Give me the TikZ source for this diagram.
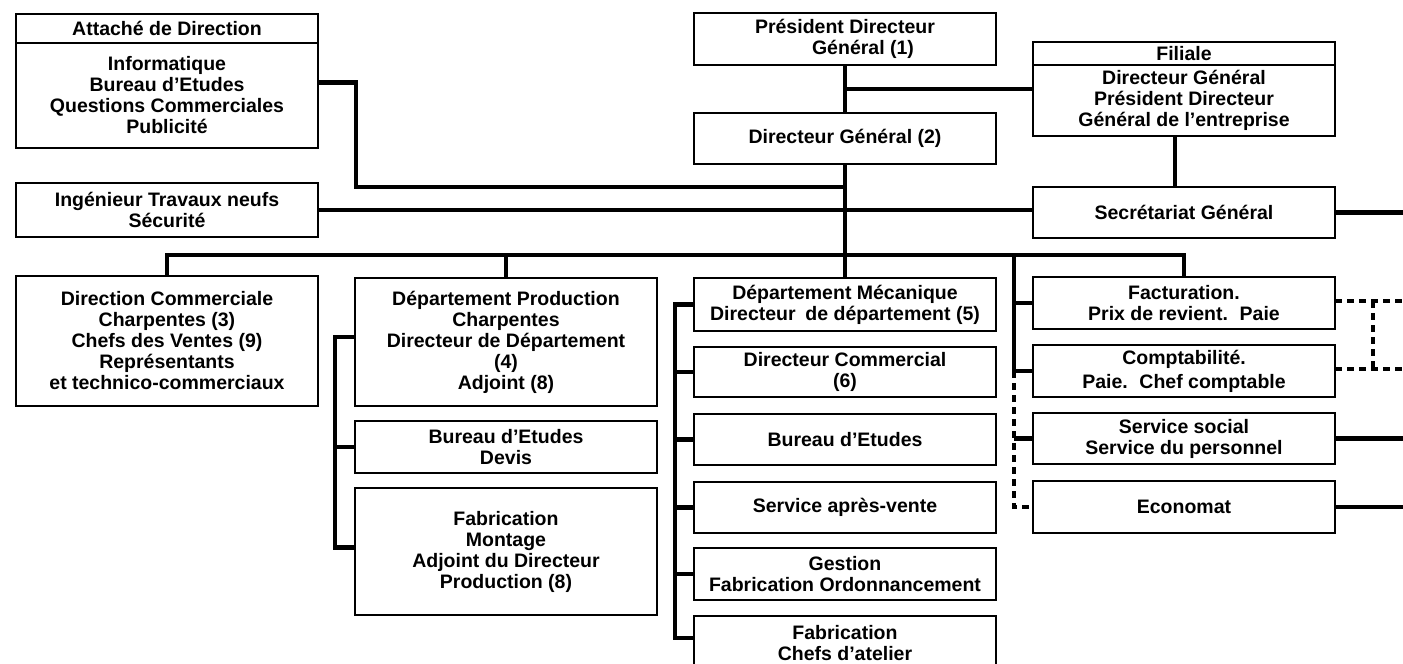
\documentclass[tikz,border=0pt]{standalone}
\usepackage{fontspec}
\setmainfont{Liberation Sans}
\begin{document}
\begin{tikzpicture}[x=1pt,y=-1pt,
  box/.style={draw, line width=2.5pt, rectangle, inner sep=0pt, outer sep=0pt,
    align=center, font=\bfseries\fontsize{19.5}{21}\selectfont},
  conn/.style={line width=4.5pt},
  dconn/.style={line width=4pt, dash pattern=on 7pt off 5pt},
]
\useasboundingbox (0,0) rectangle (1403,664);
\clip (0,0) rectangle (1403,664);

% ---- top level
\node[box, minimum width=302, minimum height=29] (attH) at (167,28.5) {Attaché de Direction};
\node[box, minimum width=302, minimum height=105] (attB) at (167,95.5)
  {Informatique\\Bureau d’Etudes\\Questions Commerciales\\Publicité};
\node[box, minimum width=302, minimum height=54] (ing) at (167,210)
  {Ingénieur Travaux neufs\\Sécurité};
\node[box, minimum width=302, minimum height=52] (pdg) at (845,39)
  {Président Directeur\\\hspace*{36pt}Général (1)};
\node[box, minimum width=302, minimum height=51] (dg) at (845,138.5) {Directeur Général (2)};
\node[box, minimum width=302, minimum height=23] (filH) at (1184,53.5) {Filiale};
\node[box, minimum width=302, minimum height=71] (filB) at (1184,100.5)
  {Directeur Général\\Président Directeur\\Général de l’entreprise};
\node[box, minimum width=302, minimum height=51] (sec) at (1184,212.5) {Secrétariat Général};

% ---- column 1 and 2
\node[box, minimum width=302, minimum height=130] (dc) at (167,341)
  {Direction Commerciale\\Charpentes (3)\\Chefs des Ventes (9)\\Représentants\\et technico-commerciaux};
\node[box, minimum width=302, minimum height=128] (dp) at (506,342)
  {Département Production\\Charpentes\\Directeur de Département\\(4)\\Adjoint (8)};
\node[box, minimum width=302, minimum height=52] (bde) at (506,447) {Bureau d’Etudes\\Devis};
\node[box, minimum width=302, minimum height=127] (fabm) at (506,551.5)
  {Fabrication\\Montage\\Adjoint du Directeur\\Production (8)};

% ---- column 3
\node[box, minimum width=302, minimum height=53] (dm) at (845,304.5)
  {Département Mécanique\\Directeur\hspace{0.5em}de département (5)};
\node[box, minimum width=302, minimum height=50] (dcom) at (845,372) {Directeur Commercial\\(6)};
\node[box, minimum width=302, minimum height=51] (bet) at (845,439.5) {Bureau d’Etudes};
\node[box, minimum width=302, minimum height=51] (sav) at (845,507.5) {Service après-vente};
\node[box, minimum width=302, minimum height=52] (ges) at (845,574) {Gestion\\Fabrication Ordonnancement};
\node[box, minimum width=302, minimum height=74] (fabc) at (845,653) {Fabrication\\Chefs d’atelier\\\mbox{}};

% ---- column 4
\node[box, minimum width=302, minimum height=52] (fac) at (1184,303)
  {Facturation.\\Prix de revient.\hspace{0.6em}Paie};
\node[box, minimum width=302, minimum height=52] (cpt) at (1184,371)
  {Comptabilité.\\[3pt]Paie.\hspace{0.6em}Chef comptable};
\node[box, minimum width=302, minimum height=51] (ssoc) at (1184,438.5)
  {Service social\\Service du personnel};
\node[box, minimum width=302, minimum height=52] (eco) at (1184,507) {Economat};

% ---- helper coordinates
\coordinate (spX) at (845,0);
\coordinate (barY) at (0,255);
\coordinate (edge) at (1410,0);
\coordinate (bxP) at (335,0);
\coordinate (bxM) at (675,0);
\coordinate (bxR) at (1014,0);
\coordinate (dashX) at (1373,0);
\coordinate (elb) at (356,187);
\coordinate (fy) at (0,89);
\coordinate (attT) at ([yshift=13pt]attB.east);
\coordinate (dpT) at ([yshift=5pt]dp.west);
\coordinate (fabT) at ([yshift=4pt]fabm.west);
\coordinate (fcT) at ([yshift=15pt]fabc.west);
\coordinate (facR) at ([yshift=2pt]fac.east);
\coordinate (cptR) at ([yshift=2pt]cpt.east);

% ---- connectors
\draw[conn] (pdg.south) -- (dg.north);
\draw[conn] (spX |- fy) -- (filB.west |- fy);
\draw[conn] (dg.south) -- (dm.north);
\draw[conn] (attT) -| (elb) -- (elb -| spX);
\draw[conn] (ing.east) -- (ing.east -| sec.west);
\draw[conn] ([xshift=-9pt]filB.south) -- ([xshift=-9pt]sec.north);
\draw[conn] (sec.east) -- (sec.east -| edge);

\draw[conn] (dc.north) |- (fac.north |- barY) -- (fac.north);
\draw[conn] (dp.north) -- (dp.north |- barY);

\draw[conn] (dpT) -- (dpT -| bxP) |- (fabT);
\draw[conn] (bde.west -| bxP) -- (bde.west);

\draw[conn] (dm.west) -- (dm.west -| bxM) |- (fcT);
\draw[conn] (dcom.west -| bxM) -- (dcom.west);
\draw[conn] (bet.west -| bxM) -- (bet.west);
\draw[conn] (sav.west -| bxM) -- (sav.west);
\draw[conn] (ges.west -| bxM) -- (ges.west);

\draw[conn] (bxR |- barY) -- (bxR |- cpt.west) -- (cpt.west);
\draw[conn] (bxR |- fac.west) -- (fac.west);
\draw[conn] (bxR |- ssoc.west) -- (ssoc.west);
\draw[dconn] (bxR |- cpt.west) -- (bxR |- eco.west) -- (eco.west);

\draw[dconn] (facR) -- (facR -| edge);
\draw[dconn] (cptR) -- (cptR -| edge);
\draw[dconn] (facR -| dashX) -- (cptR -| dashX);
\draw[conn] (ssoc.east) -- (ssoc.east -| edge);
\draw[conn] (eco.east) -- (eco.east -| edge);
\end{tikzpicture}
\end{document}
